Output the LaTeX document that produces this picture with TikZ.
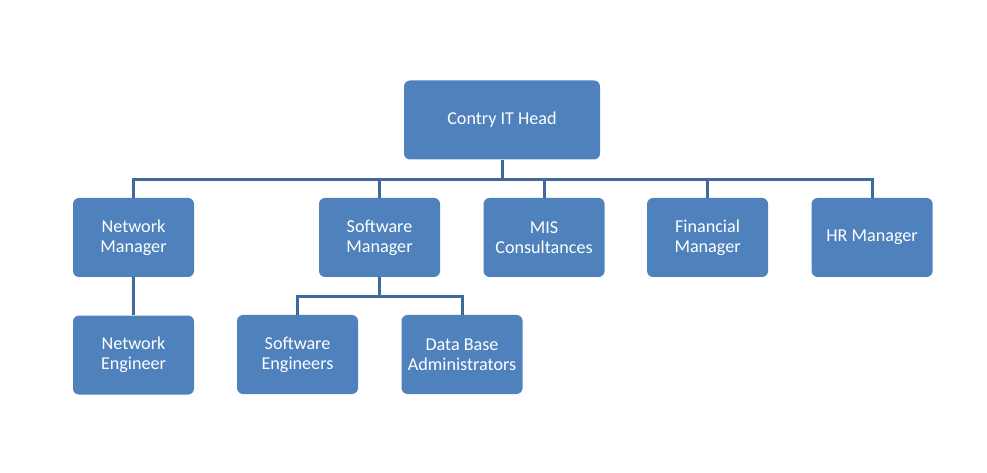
\documentclass[tikz,border=0pt]{standalone}
\usepackage{fontspec}
\setmainfont{Carlito}
\usepackage{xcolor}
\usetikzlibrary{positioning}

\definecolor{boxblue}{HTML}{4F81BD}
\definecolor{lineblue}{HTML}{41699C}

\begin{document}
\begin{tikzpicture}[
        x=0.75pt, y=-0.75pt,
        box/.style={
            rectangle, rounded corners=4.5pt,
            minimum width=90.75pt,
            minimum height=59.25pt,
            fill=boxblue, draw=none,
            text=white, align=center,
            font=\fontsize{13.6}{15}\selectfont
        },
        link/.style={draw=lineblue, line width=2.25pt},
        node distance=28.5pt and 32.25pt
    ]

    \useasboundingbox (0,0) rectangle (987,473);

    \node[box, minimum width=147pt] (head) at (502,120) {Contry IT Head};

    % second row
    \node[box] (netmgr) at (133.5,237.5) {Network\\Manager};
    \node[box] (swmgr) at (379.5,237.5) {Software\\Manager};
    \node[box, right=of swmgr] (mis) {MIS\\Consultances};
    \node[box, right=31.5pt of mis] (fin) {Financial\\Manager};
    \node[box, right=of fin] (hr) {HR Manager};

    % third row
    \node[box, below=of netmgr] (neteng) {Network\\Engineer};
    \node[box] (sweng) at (297.5,354.5) {Software\\Engineers};
    \node[box, right=of sweng] (dba) {Data Base\\Administrators};

    \coordinate (bus) at (0,180);
    \coordinate (swbus) at (0,297);

    \draw[link] (head.south) -- (head.south |- bus);
    \draw[link] (netmgr.north) |- (hr.north |- bus) -- (hr.north);
    \foreach \n in {swmgr,mis,fin}
        \draw[link] (\n.north) -- (\n.north |- bus);

    \draw[link] (netmgr.south) -- (neteng.north);
    \draw[link] (swmgr.south) -- (swmgr.south |- swbus);
    \draw[link] (sweng.north) |- (dba.north |- swbus) -- (dba.north);

\end{tikzpicture}
\end{document}
